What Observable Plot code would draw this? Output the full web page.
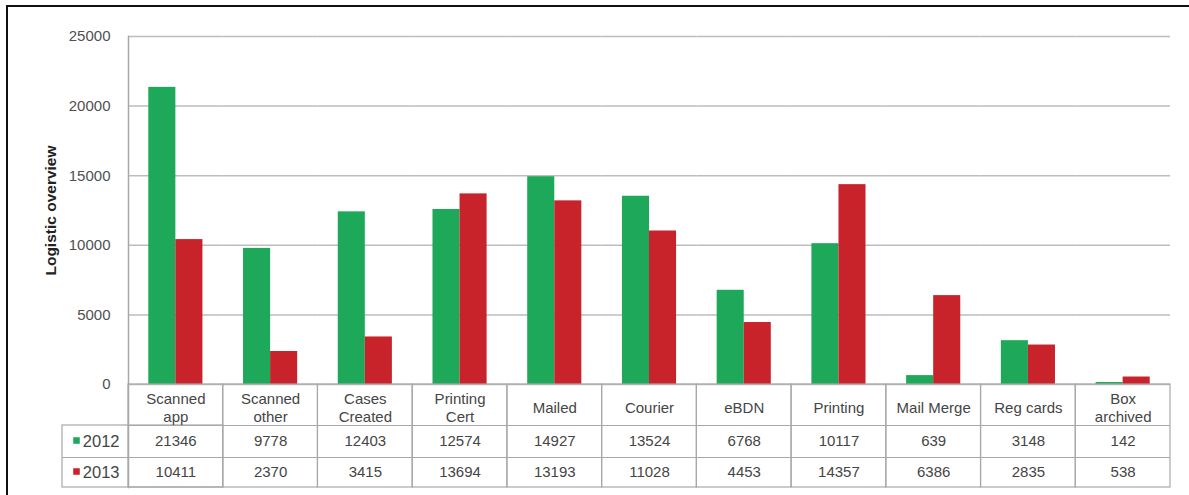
<!DOCTYPE html>
<html><head><meta charset="utf-8">
<script src="https://cdn.jsdelivr.net/npm/d3@7"></script>
<script src="https://cdn.jsdelivr.net/npm/@observablehq/plot@0.6"></script>
<style>
html,body{margin:0;padding:0;background:#fff;}
#wrap{position:relative;width:1189px;height:495px;overflow:hidden;background:#fff;}
#border{position:absolute;left:6px;top:5px;width:1300px;height:600px;border-left:2px solid #111;border-top:2px solid #111;pointer-events:none;}
#chart{position:absolute;left:0;top:0;}
</style></head><body>
<div id="wrap"><div id="chart"></div><div id="border"></div></div>
<script>
const categories = ["Scanned\napp", "Scanned\nother", "Cases\nCreated", "Printing\nCert", "Mailed", "Courier", "eBDN", "Printing", "Mail Merge", "Reg cards", "Box\narchived"];
const years = ["2012", "2013"];
const values2012 = [21346, 9778, 12403, 12574, 14927, 13524, 6768, 10117, 639, 3148, 142];
const values2013 = [10411, 2370, 3415, 13694, 13193, 11028, 4453, 14357, 6386, 2835, 538];
const yTicks = [0, 5000, 10000, 15000, 20000, 25000];
const yLabel = "Logistic overview";
const seriesColors = ["#1ea95a", "#c8232b"];

const series = {"2012": values2012, "2013": values2013};
const bars = years.flatMap(yr => categories.map((c, i) => ({cat: c, year: yr, value: series[yr][i]})));
const rows2012 = bars.filter(d => d.year === "2012");
const rows2013 = bars.filter(d => d.year === "2013");
const first = categories[0];
const lineColor = "#a8a8a8";
const textColor = "#454545";

const chart = Plot.plot({
  width: 1189,
  height: 495,
  marginLeft: 128,
  marginRight: 19,
  marginTop: 36,
  marginBottom: 111,
  style: {fontFamily: "'Liberation Sans', Arial, sans-serif", fontSize: "15px", color: textColor, background: "transparent"},
  fx: {domain: categories, padding: 0, round: false, axis: null},
  x: {domain: years, paddingInner: 0, paddingOuter: 0.75, round: false, axis: null},
  y: {domain: [0, 25000], axis: null},
  color: {domain: years, range: seriesColors},
  marks: [
    Plot.gridY(yTicks, {stroke: "#bdbdbd", strokeOpacity: 1, strokeWidth: 1.5}),
    Plot.axisY(yTicks, {tickSize: 0, tickPadding: 18, fontSize: 15, fill: "#505050", tickFormat: d => String(d), label: null}),
    Plot.text([yLabel], {fx: [first], text: d => d, frameAnchor: "left", textAnchor: "middle", rotate: -90, dx: -77, fontWeight: "bold", fontSize: 15.5, fill: "#222"}),
    Plot.frame({anchor: "left", fx: [first], insetBottom: -103, stroke: lineColor, strokeWidth: 1.5}),
    Plot.barY(bars, {fx: "cat", x: "year", y: "value", fill: "year"}),
    // data table
    Plot.rect(categories, {fx: d => d, y1: 0, y2: 0, insetBottom: -103, fill: "none", stroke: lineColor, strokeWidth: 1.2}),
    Plot.rect([first], {fx: d => d, y1: 0, y2: 0, insetLeft: -66, insetTop: 41, insetBottom: -103, fill: "none", stroke: lineColor, strokeWidth: 1.2}),
    Plot.ruleY(categories, {fx: d => d, y: 0, dy: 41, stroke: lineColor, strokeWidth: 1.2}),
    Plot.ruleY(categories, {fx: d => d, y: 0, dy: 73, stroke: lineColor, strokeWidth: 1.2}),
    Plot.ruleY([first], {fx: d => d, y: 0, dy: 73, insetLeft: -66, stroke: lineColor, strokeWidth: 1.2}),
    Plot.text(categories, {fx: d => d, text: d => d, frameAnchor: "bottom", dy: 23, lineAnchor: "middle", lineHeight: 1.2, fill: textColor}),
    Plot.text(rows2012, {fx: "cat", text: d => String(d.value), frameAnchor: "bottom", dy: 57, lineAnchor: "middle", fill: textColor}),
    Plot.text(rows2013, {fx: "cat", text: d => String(d.value), frameAnchor: "bottom", dy: 88, lineAnchor: "middle", fill: textColor}),
    // legend keys in table
    Plot.dot([years[0]], {fx: () => first, fill: d => d, symbol: "square", r: 3.7, frameAnchor: "bottom-left", dx: -52, dy: 56, stroke: null}),
    Plot.dot([years[1]], {fx: () => first, fill: d => d, symbol: "square", r: 3.7, frameAnchor: "bottom-left", dx: -52, dy: 87, stroke: null}),
    Plot.text([years[0]], {fx: () => first, text: d => d, frameAnchor: "bottom-left", dx: -9, textAnchor: "end", dy: 57, lineAnchor: "middle", fontSize: 16.5, fill: textColor}),
    Plot.text([years[1]], {fx: () => first, text: d => d, frameAnchor: "bottom-left", dx: -9, textAnchor: "end", dy: 88, lineAnchor: "middle", fontSize: 16.5, fill: textColor})
  ]
});
document.getElementById("chart").appendChild(chart);
</script>
</body></html>
